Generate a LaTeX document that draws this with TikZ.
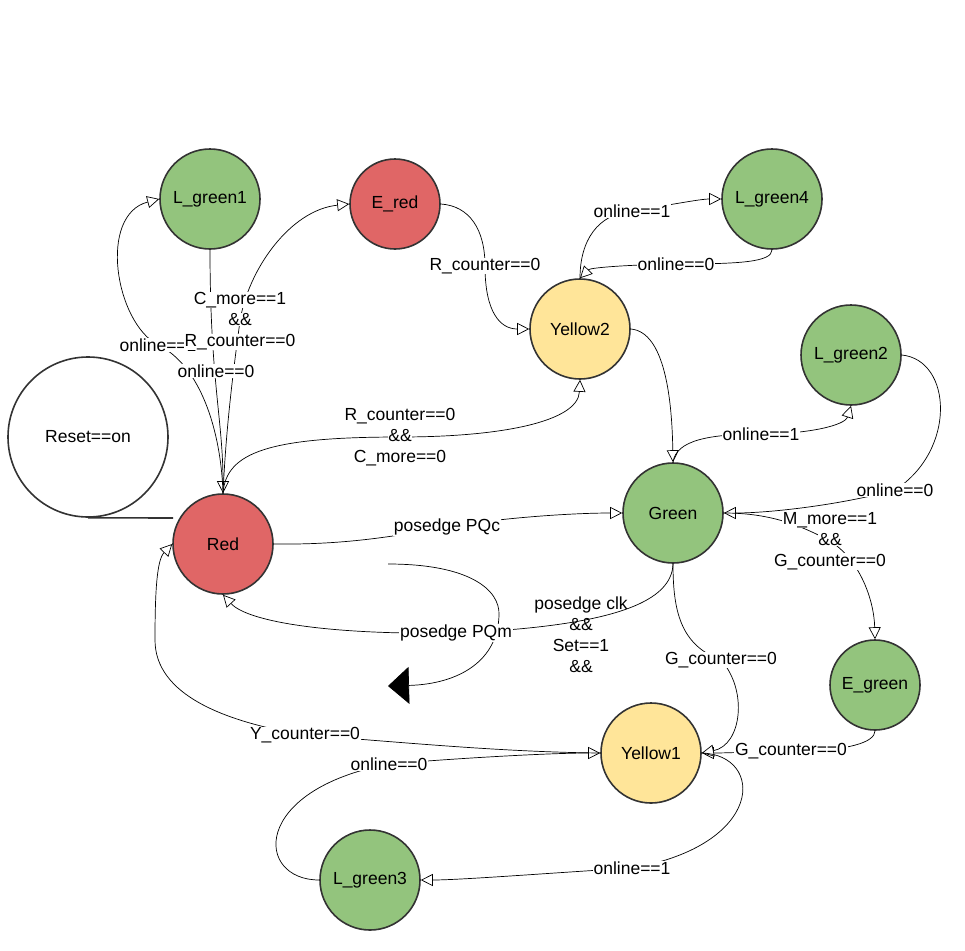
\documentclass[tikz,border=0pt]{standalone}
\usepackage{fontspec}
\setmainfont{Liberation Sans}
\usetikzlibrary{arrows.meta}
\definecolor{gfill}{HTML}{93C47D}
\definecolor{rfill}{HTML}{E06666}
\definecolor{yfill}{HTML}{FFE599}
\definecolor{sline}{HTML}{333333}
\newcommand\wbx[1]{{\setlength\fboxsep{0.6pt}\colorbox{white}{#1}}}
\begin{document}
\begin{tikzpicture}[x=1pt,y=-1pt,
  state/.style={circle,draw=sline,line width=1.6pt,minimum size=100pt,inner sep=0pt,
    font=\fontsize{17.5}{21}\selectfont},
  gs/.style={state,fill=gfill},
  rs/.style={state,fill=rfill},
  ys/.style={state,fill=yfill},
  lab/.style={inner sep=0pt,align=center,font=\fontsize{17.5}{21}\selectfont},
  arr/.style={draw=black,line width=0.7pt,-{Triangle[length=12pt,width=12pt,fill=white,line width=0.7pt]}},
  bigarr/.style={draw=black,line width=0.7pt,-{Triangle[length=21pt,width=37pt]}},
  plainline/.style={draw=sline,line width=1.6pt}]
\fill[white] (0,0) rectangle (965,950);
\useasboundingbox (0,0) rectangle (965,950);

% states
\node[gs] (LG1) at (210,199) {L\_green1};
\node[rs,minimum size=90pt] (ER) at (395,204) {E\_red};
\node[gs] (LG4) at (772,199) {L\_green4};
\node[ys] (Y2) at (580,329) {Yellow2};
\node[gs] (LG2) at (851,355) {L\_green2};
\node[state,fill=white,minimum size=160pt] (RS) at (88,437) {Reset==on};
\node[rs] (R) at (223,544) {Red};
\node[gs] (G) at (673,513) {Green};
\node[gs,minimum size=90pt] (EG) at (875,685) {E\_green};
\node[ys] (Y1) at (651,753) {Yellow1};
\node[gs] (LG3) at (370,880) {L\_green3};

% label anchors
\coordinate (lA) at (216,371);
\coordinate (lB) at (158,345);
\coordinate (lC) at (240,321);
\coordinate (lD) at (400,437);
\coordinate (lE) at (485,266);
\coordinate (lF) at (632,211);
\coordinate (lG) at (676,264);
\coordinate (lH) at (761,434);
\coordinate (lI) at (895,490);
\coordinate (lJ) at (830,541);
\coordinate (lK) at (791,751);
\coordinate (lL) at (721,660);
\coordinate (lM) at (632,868);
\coordinate (lN) at (389,764);
\coordinate (lO) at (305,735);
\coordinate (lP) at (447,527);
\coordinate (lQ) at (456,633);
\coordinate (lR) at (581,635);
\coordinate (rEnd) at (173,518);
\coordinate (dS) at (388,564);
\coordinate (dE) at (388,686);

% reset line
\draw[plainline] (RS.south) -- (rEnd);

% edges
\draw[arr] (LG1.south) .. controls (210,380) and (223,420) .. (R.north);
\draw[arr] (R.north) .. controls (221,430) and (200,365) .. (lB)
   .. controls (115,322) and (98,215) .. (LG1.west);
\draw[arr] (R.north) .. controls (226,430) and (232,380) .. (lC)
   .. controls (248,270) and (290,210) .. (ER.west);
\draw[arr] (R.north) .. controls (226,452) and (270,437) .. (lD)
   .. controls (500,437) and (578,422) .. (Y2.south);
\draw[arr] (ER.east) .. controls (470,206) and (485,230) .. (lE)
   .. controls (485,312) and (500,329) .. (Y2.west);
\draw[arr] (Y2.north) .. controls (580,240) and (598,214) .. (lF)
   .. controls (670,205) and (700,199) .. (LG4.west);
\draw[arr] (LG4.south) .. controls (772,262) and (740,264) .. (lG)
   .. controls (620,265) and (590,268) .. (Y2.north);
\draw[arr] (Y2.east) .. controls (665,332) and (672,400) .. (G.north);
\draw[arr] (G.north) .. controls (676,440) and (710,434) .. (lH)
   .. controls (810,434) and (845,425) .. (LG2.south);
\draw[arr] (LG2.east) .. controls (952,360) and (957,450) .. (lI)
   .. controls (840,505) and (770,513) .. (G.east);
\draw[arr] (G.east) .. controls (770,513) and (800,525) .. (lJ)
   .. controls (860,560) and (874,600) .. (EG.north);
\draw[arr] (EG.south) .. controls (875,742) and (850,751) .. (lK)
   .. controls (750,752) and (725,753) .. (Y1.east);
\draw[arr] (G.south) .. controls (673,610) and (680,645) .. (lL)
   .. controls (748,690) and (742,745) .. (Y1.east);
\draw[arr] (Y1.east) .. controls (765,755) and (765,845) .. (lM)
   .. controls (550,873) and (460,880) .. (LG3.east);
\draw[arr] (LG3.west) .. controls (255,880) and (250,790) .. (lN)
   .. controls (460,758) and (550,753) .. (Y1.west);
\draw[arr] (Y1.west) .. controls (500,752) and (400,742) .. (lO)
   .. controls (225,722) and (155,695) .. (155,640)
   .. controls (155,590) and (157,560) .. (R.west);
\draw[arr] (R.east) .. controls (350,545) and (400,535) .. (lP)
   .. controls (500,518) and (570,513) .. (G.west);
\draw[arr] (G.south) .. controls (672,600) and (620,626) .. (lQ)
   .. controls (330,635) and (248,622) .. (R.south);
\draw[bigarr] (dS) .. controls (470,564) and (500,590) .. (499,615)
   .. controls (498,660) and (460,684) .. (dE);

% labels
\node[lab] (tA) at (lA) {\wbx{online==0}};
\node[lab] (tB) at (lB) {\wbx{online==1}};
\node[lab] (tC) at (lC) {\wbx{C\_more==1}\\\wbx{\&\&}\\\wbx{R\_counter==0}};
\node[lab] (tD) at (lD) {\wbx{R\_counter==0}\\\wbx{\&\&}\\\wbx{C\_more==0}};
\node[lab] (tE) at (lE) {\wbx{R\_counter==0}};
\node[lab] (tF) at (lF) {\wbx{online==1}};
\node[lab] (tG) at (lG) {\wbx{online==0}};
\node[lab] (tH) at (lH) {\wbx{online==1}};
\node[lab] (tI) at (lI) {\wbx{online==0}};
\node[lab] (tJ) at (lJ) {\wbx{M\_more==1}\\\wbx{\&\&}\\\wbx{G\_counter==0}};
\node[lab] (tK) at (lK) {\wbx{G\_counter==0}};
\node[lab] (tL) at (lL) {\wbx{G\_counter==0}};
\node[lab] (tM) at (lM) {\wbx{online==1}};
\node[lab] (tN) at (lN) {\wbx{online==0}};
\node[lab] (tO) at (lO) {\wbx{Y\_counter==0}};
\node[lab] (tP) at (lP) {\wbx{posedge PQc}};
\node[lab] (tQ) at (lQ) {\wbx{posedge PQm}};
\node[lab] (tR) at (lR) {posedge clk\\\&\&\\Set==1\\\&\&};
\end{tikzpicture}
\end{document}
